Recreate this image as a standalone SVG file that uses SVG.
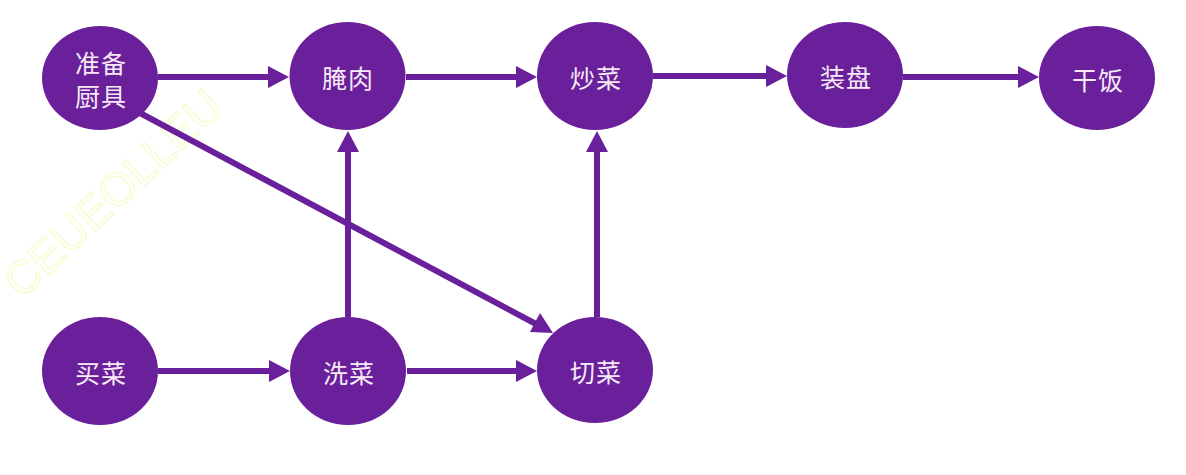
<svg xmlns="http://www.w3.org/2000/svg" width="1186" height="475" viewBox="0 0 1186 475">
<style>
.n{fill:#6a1f9b}
.t{fill:#f6eaf6;font-family:"Noto Sans CJK SC","Noto Sans",sans-serif;font-size:25px;text-anchor:middle;dominant-baseline:central;letter-spacing:1px}
.e{stroke:#6a1f9b;stroke-width:6;fill:none}
.h{fill:#6a1f9b}
.wm{fill:none;stroke:#fbfbc8;stroke-width:1.2;font-family:"Liberation Sans",sans-serif;font-size:46px}
</style>
<rect width="1186" height="475" fill="#ffffff"/>
<text class="wm" transform="translate(22,300) rotate(-43)">CEUEOLLEU</text>
<g id="connectors">
<line class="e" x1="158" y1="77" x2="270" y2="77"/><polygon class="h" points="289,77 268,66 268,88"/>
<line class="e" x1="406" y1="77" x2="518" y2="77"/><polygon class="h" points="537,77 516,66 516,88"/>
<line class="e" x1="653" y1="76" x2="768" y2="76"/><polygon class="h" points="787,76 766,65 766,87"/>
<line class="e" x1="903" y1="77" x2="1020" y2="77"/><polygon class="h" points="1039,77 1018,66 1018,88"/>
<line class="e" x1="158" y1="371" x2="271" y2="371"/><polygon class="h" points="290,371 269,360 269,382"/>
<line class="e" x1="407" y1="371" x2="518" y2="371"/><polygon class="h" points="537,371 516,360 516,382"/>
<line class="e" x1="348" y1="317" x2="348" y2="150"/><polygon class="h" points="348,131 337,152 359,152"/>
<line class="e" x1="597" y1="317" x2="597" y2="150"/><polygon class="h" points="597,131 586,152 608,152"/>
<line class="e" x1="140" y1="113" x2="536" y2="324"/><polygon class="h" points="553,333 540,313 530,332"/>
</g>
<g id="n-zhunbei"><ellipse class="n" cx="100" cy="78" rx="58" ry="52"/><text class="t" x="101" y="62">准备</text><text class="t" x="101" y="95">厨具</text></g>
<g id="n-yanrou"><ellipse class="n" cx="347.5" cy="76" rx="58" ry="54"/><text class="t" x="348" y="77">腌肉</text></g>
<g id="n-chaocai"><ellipse class="n" cx="595" cy="76" rx="58" ry="54"/><text class="t" x="596" y="77">炒菜</text></g>
<g id="n-zhuangpan"><ellipse class="n" cx="845" cy="75" rx="58" ry="53"/><text class="t" x="846" y="76">装盘</text></g>
<g id="n-ganfan"><ellipse class="n" cx="1097" cy="78" rx="58" ry="52"/><text class="t" x="1098" y="79">干饭</text></g>
<g id="n-maicai"><ellipse class="n" cx="100" cy="371" rx="58" ry="54"/><text class="t" x="101" y="372">买菜</text></g>
<g id="n-xicai"><ellipse class="n" cx="348" cy="371" rx="58" ry="54"/><text class="t" x="349" y="372">洗菜</text></g>
<g id="n-qiecai"><ellipse class="n" cx="595" cy="370" rx="58" ry="53"/><text class="t" x="596" y="371">切菜</text></g>
</svg>
